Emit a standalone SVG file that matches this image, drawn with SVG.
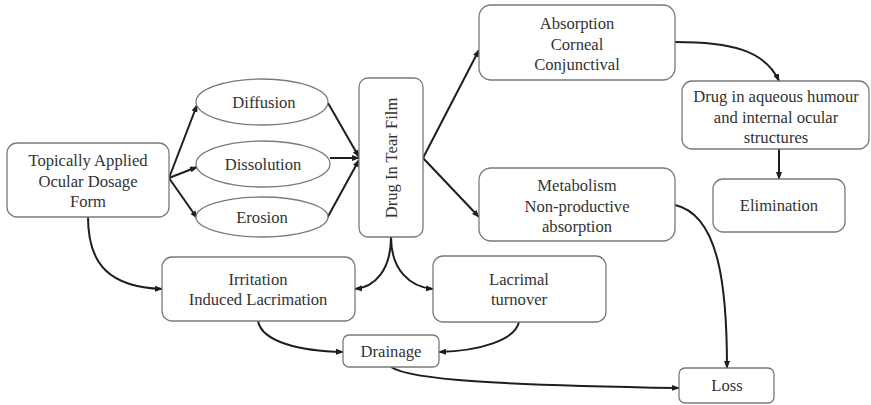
<svg xmlns="http://www.w3.org/2000/svg" width="871" height="405" viewBox="0 0 871 405">
<style>
.box{fill:#fff;stroke:#7a7a7a;stroke-width:1.3}
text{font-family:'Liberation Serif','Times New Roman',serif;font-size:16.6px;fill:#333;text-anchor:middle}
.c{fill:none;stroke:#1e1e1e;stroke-width:2;marker-end:url(#ah)}
</style>
<defs>
<marker id="ah" markerWidth="8" markerHeight="8" refX="7" refY="4" orient="auto" markerUnits="userSpaceOnUse">
<path d="M0,1 L8,4 L0,7 Z" fill="#1e1e1e"/>
</marker>
</defs>
<rect width="871" height="405" fill="#fff"/>
<g id="connectors">
<path class="c" d="M169,178 L197,105"/>
<path class="c" d="M169,178 L197,167"/>
<path class="c" d="M169,178 L197,218"/>
<path class="c" d="M328,103 L359,157"/>
<path class="c" d="M330,158 L359,158"/>
<path class="c" d="M325,222 L359,160"/>
<path class="c" d="M423,158 L479,50"/>
<path class="c" d="M423,158 L479,217"/>
<path class="c" d="M675,42 C730,42 765,50 779,81"/>
<path class="c" d="M779,149 L779,179"/>
<path class="c" d="M675,205 C720,215 727,290 727,368"/>
<path class="c" d="M391,237 C391,270 375,287 355,289"/>
<path class="c" d="M391,237 C391,270 410,287 433,289"/>
<path class="c" d="M88,217 C88,265 110,287 162,289"/>
<path class="c" d="M258,321 C262,342 300,351 343,352"/>
<path class="c" d="M519,322 C515,340 480,351 439,352"/>
<path class="c" d="M391,367 C410,380 500,385 679,388"/>
</g>
<g id="topical">
<rect class="box" x="7" y="143" width="162" height="74" rx="10"/>
<text x="88" y="166">Topically Applied</text>
<text x="88" y="187">Ocular Dosage</text>
<text x="88" y="207">Form</text>
</g>
<g id="diffusion">
<ellipse class="box" cx="262" cy="102" rx="66" ry="23"/>
<text x="264" y="108">Diffusion</text>
</g>
<g id="dissolution">
<ellipse class="box" cx="263" cy="164" rx="67" ry="23"/>
<text x="263" y="170">Dissolution</text>
</g>
<g id="erosion">
<ellipse class="box" cx="262" cy="217" rx="66" ry="20"/>
<text x="262" y="223">Erosion</text>
</g>
<g id="tearfilm">
<rect class="box" x="359" y="78" width="64" height="159" rx="9"/>
<text transform="translate(397,158) rotate(-90)">Drug In Tear Film</text>
</g>
<g id="absorption">
<rect class="box" x="479" y="5" width="196" height="75" rx="12"/>
<text x="577" y="29">Absorption</text>
<text x="577" y="50">Corneal</text>
<text x="577" y="70">Conjunctival</text>
</g>
<g id="aqueous">
<rect class="box" x="682" y="81" width="187" height="68" rx="10"/>
<text x="776" y="102">Drug in aqueous humour</text>
<text x="776" y="123">and internal ocular</text>
<text x="776" y="143">structures</text>
</g>
<g id="elimination">
<rect class="box" x="713" y="179" width="132" height="53" rx="10"/>
<text x="779" y="211">Elimination</text>
</g>
<g id="metabolism">
<rect class="box" x="479" y="168" width="196" height="73" rx="12"/>
<text x="577" y="191">Metabolism</text>
<text x="577" y="212">Non-productive</text>
<text x="577" y="232">absorption</text>
</g>
<g id="irritation">
<rect class="box" x="162" y="257" width="193" height="64" rx="10"/>
<text x="258" y="285">Irritation</text>
<text x="258" y="305">Induced Lacrimation</text>
</g>
<g id="lacrimal">
<rect class="box" x="433" y="256" width="173" height="66" rx="10"/>
<text x="519" y="285">Lacrimal</text>
<text x="519" y="305">turnover</text>
</g>
<g id="drainage">
<rect class="box" x="343" y="335" width="96" height="32" rx="6"/>
<text x="391" y="357">Drainage</text>
</g>
<g id="loss">
<rect class="box" x="679" y="368" width="95" height="35" rx="6"/>
<text x="727" y="391">Loss</text>
</g>
</svg>
